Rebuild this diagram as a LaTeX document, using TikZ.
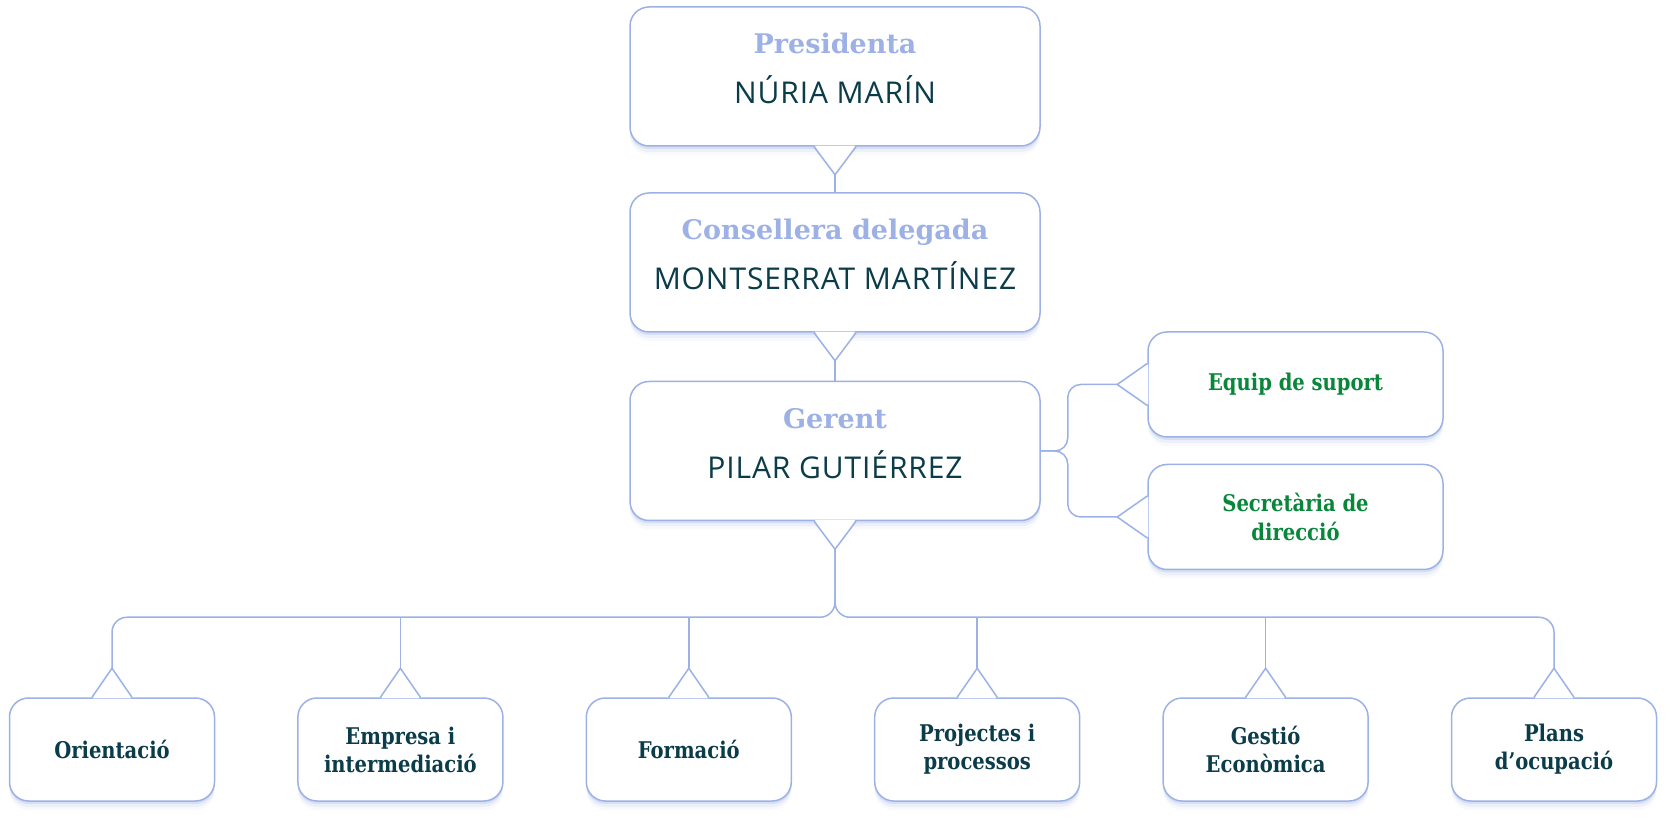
\documentclass[tikz,border=0pt]{standalone}
\usepackage{fontspec}
\setmainfont{Open Sans}
\newfontfamily\rolefont{DejaVu Serif}
\newfontfamily\slab[FakeStretch=0.85]{DejaVu Serif}
\newfontfamily\namefont[LetterSpace=3]{Open Sans}
\usetikzlibrary{shadows}
\definecolor{linec}{HTML}{9CB2E6}
\definecolor{rolec}{HTML}{9DB1E6}
\definecolor{darkc}{HTML}{0B3C49}
\definecolor{greenc}{HTML}{08873A}
\definecolor{shadc}{HTML}{8FA6E0}
\begin{document}
\begin{tikzpicture}[x=1pt,y=1pt,
    box/.style={draw=linec, line width=1.5pt, fill=white, rounded corners=19pt, inner sep=0pt,
      drop shadow={shadow xshift=0pt, shadow yshift=-3pt, fill=shadc, opacity=0.22},
      drop shadow={shadow xshift=0pt, shadow yshift=-6pt, fill=shadc, opacity=0.10},
      drop shadow={shadow xshift=0pt, shadow yshift=-9pt, fill=shadc, opacity=0.05}},
    topbox/.style={box, minimum width=410pt, minimum height=139pt},
    sidebox/.style={box, minimum width=295pt, minimum height=105pt, align=center,
      text=greenc, font=\slab\bfseries\fontsize{23}{29}\selectfont},
    unitbox/.style={box, minimum width=205pt, minimum height=103pt, align=center,
      text=darkc, font=\slab\bfseries\fontsize{23}{28}\selectfont},
    role/.style={anchor=base, text=rolec, font=\rolefont\bfseries\fontsize{27}{30}\selectfont},
    who/.style={anchor=base, text=darkc, font=\namefont\fontsize{30}{34}\selectfont},
    link/.style={draw=linec, line width=1.5pt}]
  \fill[white] (0,0) rectangle (1671,820);

  % direction
  \node[topbox] (pres) at (835,743.5) {};
  \node[role] (pres-role) at ([yshift=22.5pt]pres.center) {Presidenta};
  \node[who] (pres-name) at ([yshift=-27.5pt]pres.center) {NÚRIA MARÍN};
  \node[topbox] (cons) at (835,557.5) {};
  \node[role] (cons-role) at ([yshift=22.5pt]cons.center) {Consellera delegada};
  \node[who] (cons-name) at ([yshift=-27.5pt]cons.center) {MONTSERRAT MARTÍNEZ};
  \node[topbox] (ger) at (835,369) {};
  \node[role] (ger-role) at ([yshift=22.5pt]ger.center) {Gerent};
  \node[who] (ger-name) at ([yshift=-27.5pt]ger.center) {PILAR GUTIÉRREZ};

  % suport
  \node[sidebox] (equip) at (1295.5,435.5) {Equip de suport};
  \node[sidebox] (secr) at (1295.5,303) {Secretària de\\direcció};

  % arees
  \node[unitbox] (ori) at (112,70.5) {Orientació};
  \node[unitbox] (emp) at (400.4,70.5) {Empresa i\\intermediació};
  \node[unitbox] (form) at (688.8,70.5) {Formació};
  \node[unitbox] (proj) at (977.2,70.5) {Projectes i\\processos};
  \node[unitbox] (gest) at (1265.6,70.5) {Gestió\\Econòmica};
  \node[unitbox] (plans) at (1554,70.5) {Plans\\d’ocupació};

  % tails
  \foreach \n in {pres,cons,ger} {
    \fill[white] ([xshift=-20pt,yshift=1pt]\n.south) -- ([yshift=-28pt]\n.south) -- ([xshift=20pt,yshift=1pt]\n.south) -- cycle;
    \draw[link] ([xshift=-21pt]\n.south) -- ([yshift=-28pt]\n.south) coordinate (\n-tip) -- ([xshift=21pt]\n.south);
  }
  \foreach \n in {equip,secr} {
    \fill[white] ([xshift=1pt,yshift=20pt]\n.west) -- ([xshift=-30pt]\n.west) -- ([xshift=1pt,yshift=-20pt]\n.west) -- cycle;
    \draw[link] ([yshift=21pt]\n.west) -- ([xshift=-30pt]\n.west) coordinate (\n-tip) -- ([yshift=-21pt]\n.west);
  }
  \foreach \n in {ori,emp,form,proj,gest,plans} {
    \fill[white] ([xshift=-19pt,yshift=-1pt]\n.north) -- ([yshift=29pt]\n.north) -- ([xshift=19pt,yshift=-1pt]\n.north) -- cycle;
    \draw[link] ([xshift=-20pt]\n.north) -- ([yshift=29pt]\n.north) coordinate (\n-tip) -- ([xshift=20pt]\n.north);
  }

  % links
  \draw[link] (pres-tip) -- (cons);
  \draw[link] (cons-tip) -- (ger);
  \draw[link, rounded corners=13pt] (ger.east) -- ++(27,0) |- (equip-tip);
  \draw[link, rounded corners=13pt] (ger.east) -- ++(27,0) |- (secr-tip);
  \coordinate (bus) at ([yshift=-68pt]ger-tip);
  \draw[link, rounded corners=15pt] (ger-tip) -- (bus) -| (ori-tip);
  \draw[link, rounded corners=15pt] (ger-tip) -- (bus) -| (plans-tip);
  \foreach \n in {emp,form,proj,gest}
    \draw[link] (\n-tip) -- (\n-tip |- bus);
\end{tikzpicture}
\end{document}
